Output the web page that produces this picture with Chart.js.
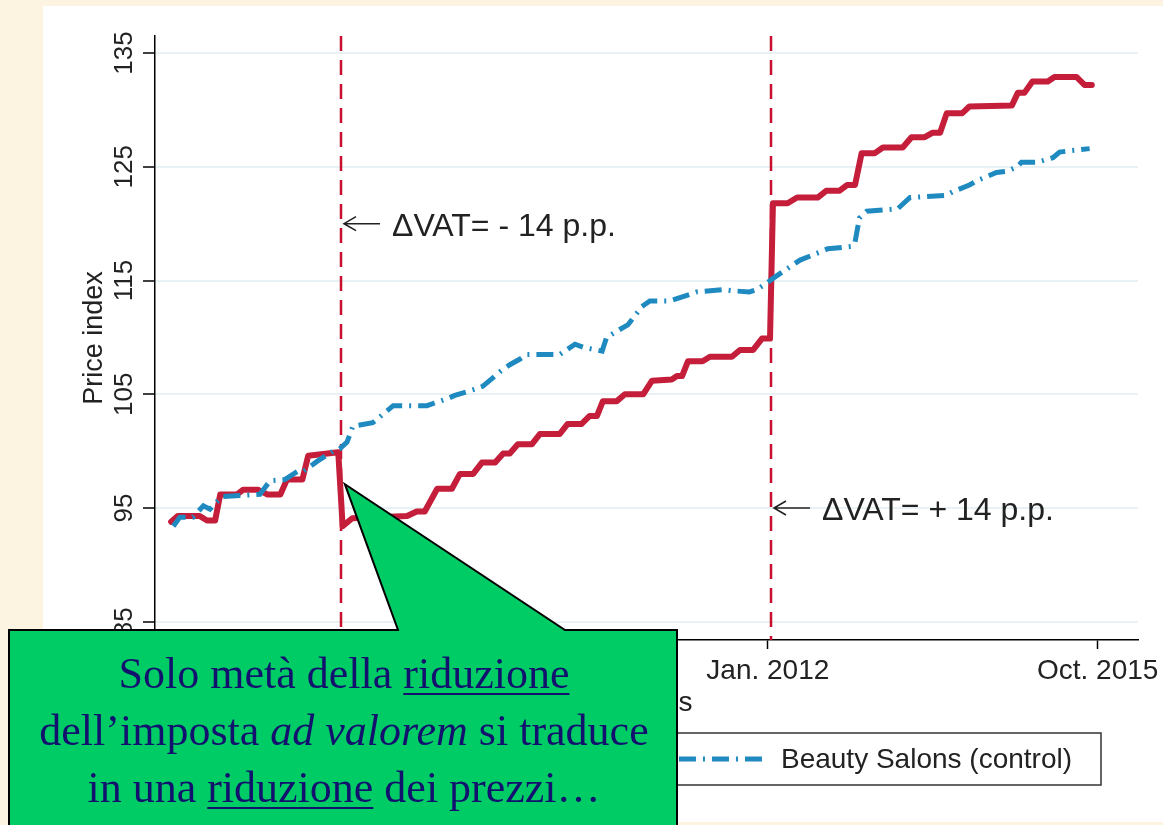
<!DOCTYPE html>
<html>
<head>
<meta charset="utf-8">
<script src="https://cdn.jsdelivr.net/npm/chart.js@4.4.0/dist/chart.umd.min.js"></script>
<style>
  html, body { margin: 0; padding: 0; background: #fdf3e1; overflow: hidden; }
  canvas { display: block; }
</style>
</head>
<body>
<canvas id="chart" width="1163" height="825"></canvas>
<script>
// x values are months counted from Jan. 2005 (= 0)
const hairMonths = [2.6, 3.5, 6.5, 7.5, 8.6, 9.3, 11.6, 12.4, 14.5, 15.7, 17.5, 18.4, 20.5, 21.3, 25.4,
  26.0, 27.3, 34.8, 36.1, 37.2, 38.9, 40.9, 42.0, 43.8, 45.0, 46.8, 47.9, 48.8, 49.9, 51.8,
  52.9, 55.6, 56.7, 58.6, 59.7, 60.7, 61.5, 63.4, 64.5, 67.0, 68.2, 70.9, 71.6, 72.3, 73.1,
  75.1, 76.1, 79.1, 80.2, 82.0, 83.2, 84.3, 84.7, 86.7, 88.0, 90.8, 92.0, 93.8, 94.8, 95.9,
  96.8, 98.6, 99.7, 102.4, 103.6, 105.4, 106.5, 107.5, 108.4, 110.5, 111.5, 117.3, 118.1, 119.0, 120.1,
  122.2, 123.1, 126.1, 127.2, 128.2]
const hairIndex = [93.8, 94.3, 94.3, 93.9, 93.9, 96.2, 96.2, 96.6, 96.6, 96.2, 96.2, 97.5, 97.5, 99.6, 99.9,
  93.4, 94.1, 94.3, 94.7, 94.7, 96.7, 96.7, 98.0, 98.0, 99.0, 99.0, 99.8, 99.8, 100.6, 100.6,
  101.5, 101.5, 102.4, 102.4, 103.1, 103.1, 104.4, 104.4, 105.0, 105.0, 106.2, 106.3, 106.6, 106.6, 107.9,
  107.9, 108.3, 108.3, 108.9, 108.9, 109.9, 109.9, 121.8, 121.8, 122.3, 122.3, 122.9, 122.9, 123.4, 123.4,
  126.2, 126.2, 126.7, 126.7, 127.6, 127.6, 128.0, 128.0, 129.7, 129.7, 130.3, 130.4, 131.5, 131.5, 132.5,
  132.5, 132.9, 132.9, 132.2, 132.2]

const salonMonths = [2.9, 3.8, 5.6, 7.0, 7.9, 9.5, 12.0, 14.7, 16.1, 18.1, 19.8, 20.6, 22.5, 24.7, 25.6,
  26.6, 27.4, 30.1, 32.9, 37.5, 40.2, 41.3, 44.3, 45.1, 47.5, 48.8, 50.2, 51.1, 55.6, 57.7,
  59.0, 61.4, 62.0, 63.8, 64.9, 66.8, 67.9, 70.6, 73.4, 74.3, 77.9, 79.2, 81.5, 82.5, 83.9,
  84.5, 85.4, 88.4, 91.1, 92.2, 95.5, 95.9, 96.5, 97.5, 101.7, 103.4, 108.4, 109.2, 111.5, 112.6,
  115.2, 116.6, 118.0, 118.6, 120.7, 122.9, 123.8, 127.9]
const salonIndex = [93.4, 94.2, 94.2, 95.2, 94.9, 96.0, 96.1, 96.2, 97.4, 97.5, 98.2, 98.2, 99.1, 100.0, 100.2,
  100.8, 102.2, 102.5, 104.0, 104.0, 104.6, 104.9, 105.5, 105.7, 107.0, 107.6, 108.1, 108.5, 108.5, 109.4,
  109.1, 108.8, 110.0, 110.7, 111.1, 112.7, 113.2, 113.2, 113.8, 114.0, 114.2, 114.1, 114.0, 114.2, 114.8,
  115.1, 115.5, 116.8, 117.5, 117.8, 118.0, 118.4, 120.5, 121.1, 121.3, 122.3, 122.5, 122.8, 123.4, 123.8,
  124.5, 124.6, 125.0, 125.4, 125.4, 125.8, 126.3, 126.6]

const seriesNames = ['Hairdressers (treatment)', 'Beauty Salons (control)']

const xTickMonths = [24, 84, 129]
const xTickLabels = ['Jan. 2007', 'Jan. 2012', 'Oct. 2015']
const yTicks = [85, 95, 105, 115, 125, 135]

const vatMonths = [25.8, 84.5]
const vatLevels = [120, 95]
const vatLabels = ['ΔVAT= - 14 p.p.', 'ΔVAT= + 14 p.p.']

// speech bubble: pointer tip sits on the price drop
const calloutTip = { month: 26.3, value: 97.1 }
const calloutLines = [
  [{ t: 'Solo metà della ' }, { t: 'riduzione', u: true }],
  [{ t: 'dell’imposta ' }, { t: 'ad valorem', i: true }, { t: ' si traduce' }],
  [{ t: 'in una ' }, { t: 'riduzione', u: true }, { t: ' dei prezzi…' }]
]

const SANS = '"Liberation Sans", Arial, sans-serif'
const SERIF = '"Liberation Serif", "Times New Roman", serif'
const INK = '#222'

function pts(xs, ys) {
  return xs.map((x, i) => ({ x: x, y: ys[i] }))
}

const backdrop = {
  id: 'backdrop',
  beforeDraw(chart) {
    const ctx = chart.ctx
    ctx.save()
    ctx.fillStyle = '#fdf3e1'
    ctx.fillRect(0, 0, chart.width, chart.height)
    ctx.fillStyle = '#ffffff'
    ctx.fillRect(43, 6, chart.width - 43, 816)
    ctx.restore()
  }
}

const vatLines = {
  id: 'vatLines',
  beforeDatasetsDraw(chart) {
    const ctx = chart.ctx
    const xs = chart.scales.x
    const area = chart.chartArea
    ctx.save()
    ctx.strokeStyle = '#c8102e'
    ctx.lineWidth = 2.5
    ctx.setLineDash([15, 9])
    vatMonths.forEach(m => {
      const px = Math.round(xs.getPixelForValue(m))
      ctx.beginPath()
      ctx.moveTo(px, area.top)
      ctx.lineTo(px, area.bottom)
      ctx.stroke()
    })
    ctx.restore()
  }
}

function drawLegend(chart) {
  const ctx = chart.ctx
  const ds = chart.data.datasets
  ctx.save()
  ctx.font = '28px ' + SANS
  const sample = 84, gapText = 18, gapItem = 32, pad = 29
  const widths = ds.map(d => ctx.measureText(d.label).width)
  const total = pad * 2 + ds.length * (sample + gapText) + widths.reduce((a, b) => a + b, 0) + gapItem * (ds.length - 1)
  const right = 1101, top = 733, h = 52
  const left = right - total
  ctx.fillStyle = '#fff'
  ctx.fillRect(left, top, total, h)
  ctx.strokeStyle = '#333'
  ctx.lineWidth = 1.5
  ctx.strokeRect(left, top, total, h)
  let x = left + pad
  const y = top + h / 2
  ds.forEach((d, i) => {
    ctx.save()
    ctx.strokeStyle = d.borderColor
    ctx.lineWidth = d.borderWidth
    ctx.setLineDash(d.borderDash || [])
    ctx.beginPath()
    ctx.moveTo(x, y)
    ctx.lineTo(x + sample, y)
    ctx.stroke()
    ctx.restore()
    x += sample + gapText
    ctx.fillStyle = INK
    ctx.textAlign = 'left'
    ctx.textBaseline = 'middle'
    ctx.fillText(d.label, x, y + 1)
    x += widths[i] + gapItem
  })
  ctx.restore()
}

function drawCallout(chart) {
  const ctx = chart.ctx
  const tipX = chart.scales.x.getPixelForValue(calloutTip.month)
  const tipY = chart.scales.y.getPixelForValue(calloutTip.value)
  const left = 9, right = 677, top = 630, bottom = chart.height + 10
  ctx.save()
  ctx.beginPath()
  ctx.moveTo(left, top)
  ctx.lineTo(398, top)
  ctx.lineTo(tipX, tipY)
  ctx.lineTo(565, top)
  ctx.lineTo(right, top)
  ctx.lineTo(right, bottom)
  ctx.lineTo(left, bottom)
  ctx.closePath()
  ctx.fillStyle = '#00cc66'
  ctx.fill()
  ctx.strokeStyle = '#000'
  ctx.lineWidth = 2
  ctx.stroke()

  const cx = (left + right) / 2 + 1
  const baselines = [688, 745, 802]
  ctx.fillStyle = '#12126e'
  ctx.strokeStyle = '#12126e'
  ctx.textBaseline = 'alphabetic'
  ctx.textAlign = 'left'
  calloutLines.forEach((runs, li) => {
    const fonts = runs.map(r => (r.i ? 'italic ' : '') + '44px ' + SERIF)
    const widths = runs.map((r, k) => { ctx.font = fonts[k]; return ctx.measureText(r.t).width })
    let x = cx - widths.reduce((a, b) => a + b, 0) / 2
    runs.forEach((r, k) => {
      ctx.font = fonts[k]
      ctx.fillText(r.t, x, baselines[li])
      if (r.u) {
        ctx.lineWidth = 2
        ctx.beginPath()
        ctx.moveTo(x, baselines[li] + 6)
        ctx.lineTo(x + widths[k], baselines[li] + 6)
        ctx.stroke()
      }
      x += widths[k]
    })
  })
  ctx.restore()
}

const decor = {
  id: 'decor',
  afterDraw(chart) {
    const ctx = chart.ctx
    const xs = chart.scales.x
    const ys = chart.scales.y
    const area = chart.chartArea

    ctx.save()
    ctx.fillStyle = INK
    // y tick labels, turned like the axis title
    ctx.font = '26px ' + SANS
    ctx.textAlign = 'center'
    ctx.textBaseline = 'alphabetic'
    yTicks.forEach(v => {
      ctx.save()
      ctx.translate(132, ys.getPixelForValue(v))
      ctx.rotate(-Math.PI / 2)
      ctx.fillText(String(v), 0, 0)
      ctx.restore()
    })
    // y title
    ctx.font = '27px ' + SANS
    ctx.save()
    ctx.translate(102, (area.top + area.bottom) / 2)
    ctx.rotate(-Math.PI / 2)
    ctx.fillText('Price index', 0, 0)
    ctx.restore()
    // x tick labels and title
    ctx.font = '28px ' + SANS
    xTickMonths.forEach((m, i) => {
      ctx.fillText(xTickLabels[i], xs.getPixelForValue(m), 679)
    })
    ctx.fillText('Months', (area.left + area.right) / 2, 711)

    // VAT annotations
    vatMonths.forEach((m, i) => {
      const vx = Math.round(xs.getPixelForValue(m))
      const vy = ys.getPixelForValue(vatLevels[i])
      ctx.strokeStyle = INK
      ctx.lineWidth = 1.6
      ctx.beginPath()
      ctx.moveTo(vx + 3, vy)
      ctx.lineTo(vx + 39, vy)
      ctx.moveTo(vx + 15, vy - 7)
      ctx.lineTo(vx + 3, vy)
      ctx.lineTo(vx + 15, vy + 7)
      ctx.stroke()
      ctx.font = '32px ' + SANS
      ctx.textAlign = 'left'
      ctx.fillText(vatLabels[i], vx + 51, vy + 12)
    })
    ctx.restore()

    drawLegend(chart)
    drawCallout(chart)
  }
}

new Chart(document.getElementById('chart'), {
  type: 'line',
  data: {
    datasets: [{
      label: seriesNames[0],
      data: pts(hairMonths, hairIndex),
      borderColor: '#c41e3a',
      borderWidth: 6,
      borderJoinStyle: 'round',
      borderCapStyle: 'round',
      pointRadius: 0,
      tension: 0,
      order: 1
    }, {
      label: seriesNames[1],
      data: pts(salonMonths, salonIndex),
      borderColor: '#1f8ac0',
      borderWidth: 5,
      borderDash: [17, 7, 2, 7],
      borderCapStyle: 'butt',
      pointRadius: 0,
      tension: 0,
      order: 0
    }]
  },
  options: {
    responsive: false,
    animation: false,
    devicePixelRatio: 1,
    layout: { padding: { left: 0, top: 36, right: 25, bottom: 0 } },
    plugins: { legend: { display: false }, tooltip: { enabled: false } },
    scales: {
      x: {
        type: 'linear',
        min: 0.4,
        max: 134.5,
        afterBuildTicks: scale => { scale.ticks = xTickMonths.map(v => ({ value: v })) },
        afterFit: scale => { scale.height = 185 },
        ticks: { display: false },
        grid: { drawOnChartArea: false, drawTicks: true, tickLength: 9, tickColor: '#000', tickWidth: 1.5 },
        border: { display: true, color: '#000', width: 1.5 }
      },
      y: {
        type: 'linear',
        min: 83.4,
        max: 136.5,
        afterBuildTicks: scale => { scale.ticks = yTicks.map(v => ({ value: v })) },
        afterFit: scale => { scale.width = 155 },
        ticks: { display: false },
        grid: { color: '#e8f1f4', lineWidth: 2, drawTicks: true, tickLength: 12, tickColor: '#000', tickWidth: 1.5 },
        border: { display: true, color: '#000', width: 1.5 }
      }
    }
  },
  plugins: [backdrop, vatLines, decor]
})
</script>
</body>
</html>
